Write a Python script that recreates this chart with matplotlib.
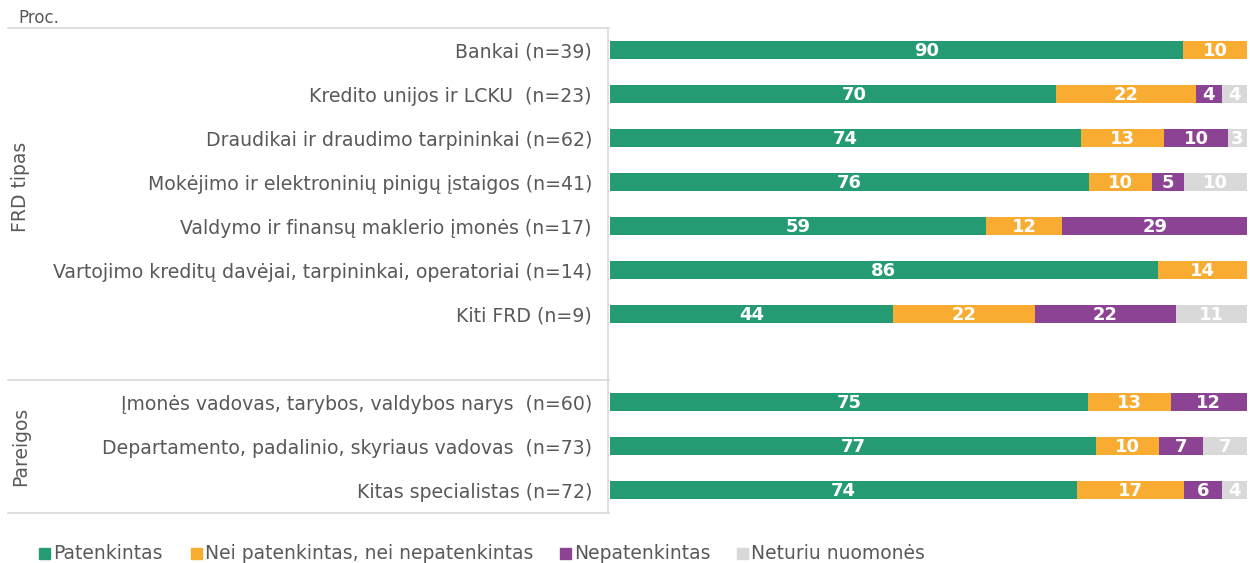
import matplotlib
matplotlib.use("Agg")
import matplotlib.pyplot as plt
import matplotlib.transforms as mtransforms
from matplotlib.patches import Rectangle
from matplotlib.lines import Line2D
import numpy as np

plt.rcParams['font.family'] = ['DejaVu Sans']

categories = [
    "Bankai (n=39)",
    "Kredito unijos ir LCKU  (n=23)",
    "Draudikai ir draudimo tarpininkai (n=62)",
    "Mokėjimo ir elektroninių pinigų įstaigos (n=41)",
    "Valdymo ir finansų maklerio įmonės (n=17)",
    "Vartojimo kreditų davėjai, tarpininkai, operatoriai (n=14)",
    "Kiti FRD (n=9)",
    "",
    "Įmonės vadovas, tarybos, valdybos narys  (n=60)",
    "Departamento, padalinio, skyriaus vadovas  (n=73)",
    "Kitas specialistas (n=72)",
]
series_names = ["Patenkintas", "Nei patenkintas, nei nepatenkintas",
                "Nepatenkintas", "Neturiu nuomonės"]
patenkintas   = [90, 70, 74, 76, 59, 86, 44, 0, 75, 77, 74]
nei           = [10, 22, 13, 10, 12, 14, 22, 0, 13, 10, 17]
nepatenkintas = [0, 4, 10, 5, 29, 0, 22, 0, 12, 7, 6]
neturiu       = [0, 4, 3, 10, 0, 0, 11, 0, 0, 7, 4]
groups = ["FRD tipas", "Pareigos"]
group_centers = [3.1, 9.0]
colors = ["#259B74", "#F8AD32", "#8C4393", "#D9D9D9"]
txt_gray = "#595959"
# manual shifts (in pixels) of some data labels, as in the original chart
label_shift_px = {(0, 0): 30, (0, 1): 21}

W, H = 1250, 563
fig = plt.figure(figsize=(W / 100, H / 100), dpi=100)

def fx(px):
    return px / W

def fy(py):
    return 1 - py / H

ax_left_px, ax_right_px = 610, 1247
ax = fig.add_axes([fx(ax_left_px), fy(512), fx(ax_right_px) - fx(ax_left_px), fy(28) - fy(512)])
px_per_unit = (ax_right_px - ax_left_px) / 100

data = np.array([patenkintas, nei, nepatenkintas, neturiu], dtype=float)
totals = data.sum(axis=0)
totals[totals == 0] = 1
norm = data / totals * 100
y = np.arange(len(categories))
left = np.zeros(len(categories))
for s in range(4):
    ax.barh(y, norm[s], left=left, height=0.41, color=colors[s], linewidth=0)
    for i in range(len(categories)):
        v = data[s, i]
        if v > 0:
            xc = left[i] + norm[s, i] / 2 + label_shift_px.get((s, i), 0) / px_per_unit
            ax.text(xc, y[i] + 0.02, f"{int(v)}", ha="center", va="center",
                    color="white", fontweight="bold", fontsize=13)
    left += norm[s]

ax.set_xlim(0, 100)
ax.set_ylim(len(categories) - 0.5, -0.5)
ax.set_yticks(y)
ax.set_yticklabels(categories, color=txt_gray, fontsize=13.6)
ax.tick_params(axis="y", length=0, pad=13)
ax.set_xticks([])
for sp in ax.spines.values():
    sp.set_visible(False)

# frame lines of the category table
lc = "#D9D9D9"
lw = 1.2
fig.add_artist(Line2D([fx(8), fx(609)], [fy(28), fy(28)], color=lc, lw=lw))
fig.add_artist(Line2D([fx(8), fx(609)], [fy(380), fy(380)], color=lc, lw=lw))
fig.add_artist(Line2D([fx(8), fx(609)], [fy(513), fy(513)], color=lc, lw=lw))
fig.add_artist(Line2D([fx(608), fx(608)], [fy(28), fy(513)], color=lc, lw=lw))

trans = mtransforms.blended_transform_factory(fig.transFigure, ax.transData)
for g, c in zip(groups, group_centers):
    ax.text(fx(21), c, g, transform=trans, rotation=90, ha="center", va="center",
            color=txt_gray, fontsize=13.5)

fig.text(fx(18), fy(18), "Proc.", color=txt_gray, fontsize=12, ha="left", va="center")

# legend
leg_sq_x = [39, 191, 560, 737]
for xs, name, col in zip(leg_sq_x, series_names, colors):
    fig.add_artist(Rectangle((fx(xs), fy(559)), fx(11), 11 / H, color=col,
                             transform=fig.transFigure))
    fig.text(fx(xs + 14), fy(553.5), name, color=txt_gray, fontsize=13.5,
             ha="left", va="center")

fig.savefig("out.png", dpi=100)
